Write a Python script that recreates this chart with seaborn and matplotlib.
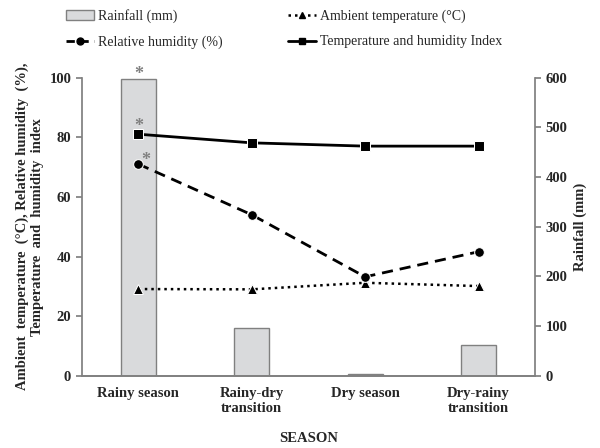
import matplotlib
matplotlib.use("Agg")
import matplotlib.pyplot as plt
from matplotlib.lines import Line2D
from matplotlib.patches import Patch
import seaborn as sns
import pandas as pd

seasons = ["Rainy season", "Rainy-dry\ntransition", "Dry season", "Dry-rainy\ntransition"]
rainfall = [596, 97, 3.5, 62]
temperature = [29.1, 29.0, 31.2, 30.1]
humidity = [71.0, 54.0, 33.2, 41.6]
thi = [81.0, 78.1, 77.0, 77.0]

sns.set_theme(style="white")
plt.rcParams["font.family"] = ["Liberation Serif", "DejaVu Serif"]
plt.rcParams["font.weight"] = "bold"

df = pd.DataFrame({"season": seasons, "rain": rainfall, "temp": temperature,
                   "rh": humidity, "thi": thi})

fig = plt.figure(figsize=(6, 4.48), dpi=100)
ax = fig.add_axes([0.136, 0.161, 0.756, 0.666])
ax2 = ax.twinx()

# rainfall bars on the right axis, kept behind the lines
sns.barplot(data=df, x="season", y="rain", ax=ax2, color="#d9dadc",
            edgecolor="#808080", linewidth=1.0, width=0.31, saturation=1)
ax2.set_ylim(0, 600)
ax2.set_yticks(range(0, 601, 100))
ax2.set_ylabel("Rainfall (mm)", fontsize=10.5, fontweight="bold", labelpad=4)

sns.lineplot(data=df, x="season", y="temp", ax=ax, color="black", marker="^",
             markersize=7, linestyle=(0, (1, 1.6)), linewidth=1.8, sort=False)
sns.lineplot(data=df, x="season", y="rh", ax=ax, color="black", marker="o",
             markersize=7, linestyle=(0, (4, 2.5)), linewidth=2, sort=False)
sns.lineplot(data=df, x="season", y="thi", ax=ax, color="black", marker="s",
             markersize=7, linestyle="-", linewidth=2, sort=False)

ax.set_zorder(ax2.get_zorder() + 1)
ax.patch.set_visible(False)
ax.set_ylim(0, 100)
ax.set_xlim(-0.5, 3.5)
ax.set_yticks(range(0, 101, 20))
ax.set_ylabel("Ambient  temperature  (\u00b0C), Relative humidity  (%),\n"
              "Temperature  and  humidity  index", fontsize=10.5, fontweight="bold")
ax.set_xlabel("SEASON", fontsize=10.5, fontweight="bold", labelpad=12)

# significance marks
ax.text(0, 98.0, "*", color="#808080", ha="center", va="bottom", fontsize=13)
ax.text(0, 80.8, "*", color="#808080", ha="center", va="bottom", fontsize=13)
ax.text(0.07, 69.3, "*", color="#808080", ha="center", va="bottom", fontsize=13)

for a in (ax, ax2):
    for side in ("left", "right", "bottom"):
        a.spines[side].set_color("#808080")
    a.spines["top"].set_visible(False)
    a.tick_params(axis="y", direction="out", length=4, color="#808080",
                  labelsize=10.5, left=(a is ax), right=(a is ax2))
    a.tick_params(axis="x", length=0, labelsize=10.5, pad=8)
ax.spines["right"].set_visible(False)
ax2.spines["left"].set_visible(False)
for lab in ax.get_xticklabels() + ax.get_yticklabels() + ax2.get_yticklabels():
    lab.set_fontweight("bold")

handles = [
    Patch(facecolor="#d9dadc", edgecolor="#808080", label="Rainfall (mm)"),
    Line2D([], [], color="black", marker="o", linestyle=(0, (3, 2)), lw=2,
           markersize=5, label="Relative humidity (%)"),
    Line2D([], [], color="black", marker="^", linestyle=(0, (1, 1.6)), lw=1.8,
           markersize=5, label="Ambient temperature (\u00b0C)"),
    Line2D([], [], color="black", marker="s", linestyle="-", lw=2,
           markersize=5, label="Temperature and humidity Index"),
]
fig.legend(handles=handles, ncol=2, loc="upper left", bbox_to_anchor=(0.089, 1.008),
           frameon=False, prop={"size": 10, "weight": "normal"},
           handlelength=2.0, columnspacing=4.7, labelspacing=0.9, handletextpad=0.3)

fig.savefig("out.png", dpi=100)
